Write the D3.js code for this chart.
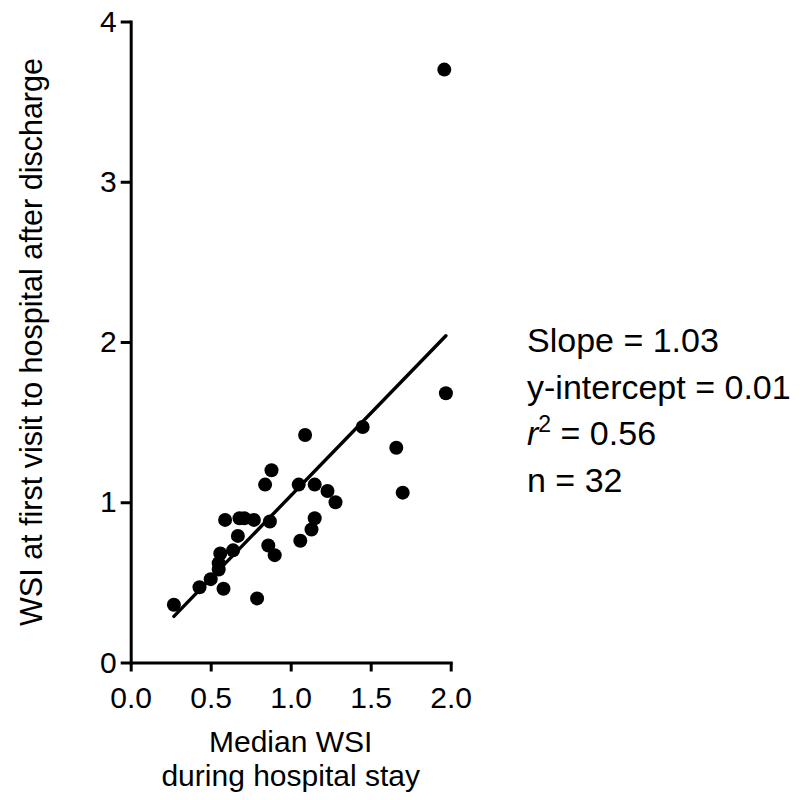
<!DOCTYPE html>
<html lang="en">
<head>
    <meta charset="utf-8" />
    <title>WSI scatter</title>
    <style>
        body { margin: 0; background: #fff; }
        text { font-family: "Liberation Sans", Arial, sans-serif; fill: #000; }
        .axis path, .axis line { fill: none; stroke: #000; stroke-width: 3px; }
        .axis text { font-size: 30px; }
    </style>
</head>
<body>
<div id="graph"></div>
<script src="https://cdn.jsdelivr.net/npm/d3@7"></script>
<script>
    // median WSI during stay (x) vs WSI at first visit after discharge (y)
    var medianWSI = [0.27, 0.43, 0.50, 0.55, 0.55, 0.56, 0.58, 0.59, 0.64, 0.67, 0.68, 0.71, 0.77, 0.79,
                     0.84, 0.88, 0.86, 0.87, 0.90, 1.05, 1.06, 1.09, 1.13, 1.15, 1.15, 1.23, 1.28, 1.45,
                     1.66, 1.70, 1.97, 1.96];
    var firstVisitWSI = [0.36, 0.47, 0.52, 0.58, 0.62, 0.68, 0.46, 0.89, 0.70, 0.79, 0.90, 0.90, 0.89, 0.40,
                         1.11, 1.20, 0.73, 0.88, 0.67, 1.11, 0.76, 1.42, 0.83, 1.11, 0.90, 1.07, 1.00, 1.47,
                         1.34, 1.06, 1.68, 3.70];

    var xTicks = [0, 0.5, 1.0, 1.5, 2.0];
    var yTicks = [0, 1, 2, 3, 4];

    var slope = 1.03, intercept = 0.01;
    var statLines = ["Slope = 1.03", "y-intercept = 0.01", "r2 = 0.56", "n = 32"];

    var width = 803, height = 800;

    var x = d3.scaleLinear().domain([0, 2]).range([130.7, 450.7]);
    var y = d3.scaleLinear().domain([0, 4]).range([662.5, 21.5]);

    var svg = d3.select("#graph").append("svg")
        .attr("width", width)
        .attr("height", height);

    svg.append("g")
        .attr("class", "x axis")
        .attr("transform", "translate(0," + y(0) + ")")
        .call(d3.axisBottom(x).tickValues(xTicks).tickFormat(d3.format(".1f"))
            .tickSize(9).tickSizeOuter(0).tickPadding(15));

    svg.append("g")
        .attr("class", "y axis")
        .attr("transform", "translate(" + x(0) + ",0)")
        .call(d3.axisLeft(y).tickValues(yTicks).tickFormat(d3.format("d"))
            .tickSize(10).tickSizeOuter(0).tickPadding(4));

    d3.selectAll(".axis path").attr("stroke-linecap", "square");

    // axis titles
    svg.append("text")
        .attr("transform", "translate(41.5," + (y(0) + y(4)) / 2 + ") rotate(-90)")
        .attr("text-anchor", "middle")
        .style("font-size", "30.5px")
        .text("WSI at first visit to hospital after discharge");

    var xt = svg.append("text")
        .attr("text-anchor", "middle")
        .style("font-size", "30px");
    xt.append("tspan").attr("x", (x(0) + x(2)) / 2).attr("y", 751.5).text("Median WSI");
    xt.append("tspan").attr("x", (x(0) + x(2)) / 2).attr("y", 786).text("during hospital stay");

    // regression line
    var xMin = d3.min(medianWSI), xMax = d3.max(medianWSI);
    svg.append("line")
        .attr("x1", x(xMin)).attr("y1", y(slope * xMin + intercept))
        .attr("x2", x(xMax)).attr("y2", y(slope * xMax + intercept))
        .attr("stroke", "#000")
        .attr("stroke-width", 3.4)
        .attr("stroke-linecap", "round");

    svg.selectAll(".dot")
        .data(medianWSI)
        .enter()
        .append("circle")
        .attr("class", "dot")
        .attr("cx", function (d) { return x(d); })
        .attr("cy", function (d, i) { return y(firstVisitWSI[i]); })
        .attr("r", 7)
        .style("fill", "#000");

    // stats block
    var stats = svg.append("g").attr("transform", "translate(527,0)");
    statLines.forEach(function (s, i) {
        var t = stats.append("text")
            .attr("x", 0)
            .attr("y", 351.7 + i * 46.8)
            .style("font-size", "34px");
        if (s.indexOf("r2") === 0) {
            t.append("tspan").style("font-style", "italic").text("r");
            t.append("tspan").attr("dy", -13).style("font-size", "23px").text("2");
            t.append("tspan").attr("dy", 13).text(s.slice(2));
        } else {
            t.text(s);
        }
    });
</script>
</body>
</html>
